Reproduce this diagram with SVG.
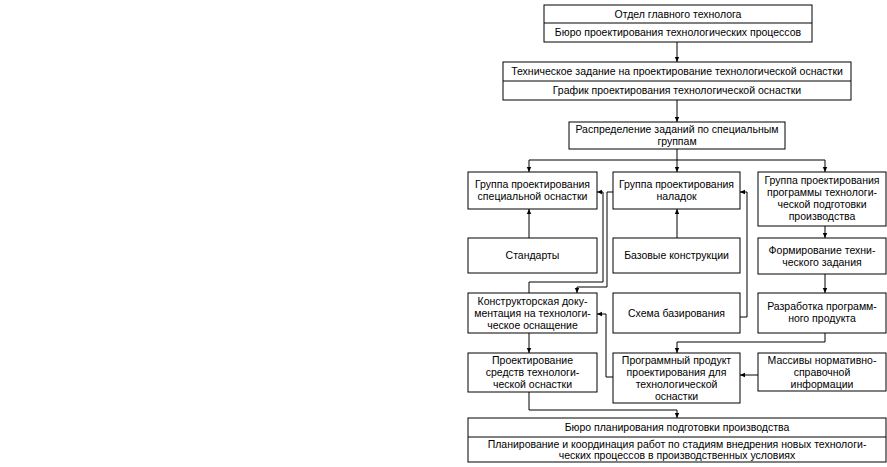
<svg xmlns="http://www.w3.org/2000/svg" width="887" height="467" viewBox="0 0 887 467">
<style>
.box{fill:#fff;stroke:#000;stroke-width:1}
.ln{fill:none;stroke:#000;stroke-width:1}
text{font-family:"Liberation Sans",Arial,sans-serif;font-size:10.5px;fill:#000;text-anchor:middle}
</style>
<defs>
<marker id="ah" markerUnits="userSpaceOnUse" markerWidth="6" markerHeight="6" refX="5" refY="3" orient="auto">
<path d="M0,0.8 L5,3 L0,5.2 Z" fill="#000"/>
</marker>
</defs>
<rect width="887" height="467" fill="#fff"/>
<g id="connectors">
<path class="ln" d="M677,42 V62" marker-end="url(#ah)"/>
<path class="ln" d="M677,100 V122" marker-end="url(#ah)"/>
<path class="ln" d="M677,149 V160 M529,160 H825"/>
<path class="ln" d="M529,160 V172" marker-end="url(#ah)"/>
<path class="ln" d="M677,160 V172" marker-end="url(#ah)"/>
<path class="ln" d="M825,160 V172" marker-end="url(#ah)"/>
<path class="ln" d="M529,238 V209" marker-end="url(#ah)"/>
<path class="ln" d="M677,238 V209" marker-end="url(#ah)"/>
<path class="ln" d="M825,226 V238" marker-end="url(#ah)"/>
<path class="ln" d="M825,274 V293" marker-end="url(#ah)"/>
<path class="ln" d="M529,293 V282 H603 V192 H597" marker-start="url(#ah)" marker-end="url(#ah)"/>
<path class="ln" d="M613,192 H607 V287 H577 V293" marker-end="url(#ah)"/>
<path class="ln" d="M740,317 H747 V192 H740" marker-end="url(#ah)"/>
<path class="ln" d="M613,377 H606 V314 H597" marker-end="url(#ah)"/>
<path class="ln" d="M758,375 H740" marker-end="url(#ah)"/>
<path class="ln" d="M825,333 V342 H677 V353" marker-end="url(#ah)"/>
<path class="ln" d="M529,333 V353" marker-end="url(#ah)"/>
<path class="ln" d="M529,392 V410 H677 V418" marker-end="url(#ah)"/>
</g>
<g id="n1">
<rect class="box" x="544" y="5" width="268" height="37"/>
<line class="ln" x1="544" y1="23" x2="812" y2="23"/>
<text x="678" y="18">Отдел главного технолога</text>
<text x="678" y="36">Бюро проектирования технологических процессов</text>
</g>
<g id="n2">
<rect class="box" x="503" y="62" width="348" height="38"/>
<line class="ln" x1="503" y1="81" x2="851" y2="81"/>
<text x="677" y="75">Техническое задание на проектирование технологической оснастки</text>
<text x="677" y="94">График проектирования технологической оснастки</text>
</g>
<g id="n3">
<rect class="box" x="569" y="122" width="216" height="27"/>
<text x="677" y="133">Распределение заданий по специальным</text>
<text x="677" y="145">группам</text>
</g>
<g id="n4">
<rect class="box" x="468" y="172" width="129" height="37"/>
<text x="532.5" y="188">Группа проектирования</text>
<text x="532.5" y="200">специальной оснастки</text>
</g>
<g id="n5">
<rect class="box" x="613" y="172" width="127" height="37"/>
<text x="676.5" y="188">Группа проектирования</text>
<text x="676.5" y="200">наладок</text>
</g>
<g id="n6">
<rect class="box" x="758" y="172" width="128" height="54"/>
<text x="822" y="184">Группа проектирования</text>
<text x="822" y="196">программы технологи-</text>
<text x="822" y="208">ческой подготовки</text>
<text x="822" y="220">производства</text>
</g>
<g id="n7">
<rect class="box" x="468" y="238" width="129" height="35"/>
<text x="532.5" y="259">Стандарты</text>
</g>
<g id="n8">
<rect class="box" x="613" y="238" width="127" height="35"/>
<text x="676.5" y="259">Базовые конструкции</text>
</g>
<g id="n9">
<rect class="box" x="758" y="238" width="128" height="36"/>
<text x="822" y="254">Формирование техни-</text>
<text x="822" y="266">ческого задания</text>
</g>
<g id="n10">
<rect class="box" x="468" y="293" width="129" height="40"/>
<text x="532.5" y="305">Конструкторская доку-</text>
<text x="532.5" y="317">ментация на технологи-</text>
<text x="532.5" y="329">ческое оснащение</text>
</g>
<g id="n11">
<rect class="box" x="613" y="293" width="127" height="40"/>
<text x="676.5" y="317">Схема базирования</text>
</g>
<g id="n12">
<rect class="box" x="758" y="293" width="128" height="40"/>
<text x="822" y="310">Разработка программ-</text>
<text x="822" y="322">ного продукта</text>
</g>
<g id="n13">
<rect class="box" x="468" y="353" width="129" height="39"/>
<text x="532.5" y="364">Проектирование</text>
<text x="532.5" y="376">средств технологи-</text>
<text x="532.5" y="388">ческой оснастки</text>
</g>
<g id="n14">
<rect class="box" x="613" y="353" width="127" height="50"/>
<text x="676.5" y="364">Программный продукт</text>
<text x="676.5" y="376">проектирования для</text>
<text x="676.5" y="388">технологической</text>
<text x="676.5" y="400">оснастки</text>
</g>
<g id="n15">
<rect class="box" x="758" y="353" width="128" height="38"/>
<text x="822" y="364">Массивы нормативно-</text>
<text x="822" y="376">справочной</text>
<text x="822" y="388">информации</text>
</g>
<g id="n16">
<rect class="box" x="468" y="418" width="418" height="44"/>
<line class="ln" x1="468" y1="437" x2="886" y2="437"/>
<text x="677" y="431">Бюро планирования подготовки производства</text>
<text x="677" y="448">Планирование и координация работ по стадиям внедрения новых технологи-</text>
<text x="677" y="459">ческих процессов в производственных условиях</text>
</g>
</svg>
